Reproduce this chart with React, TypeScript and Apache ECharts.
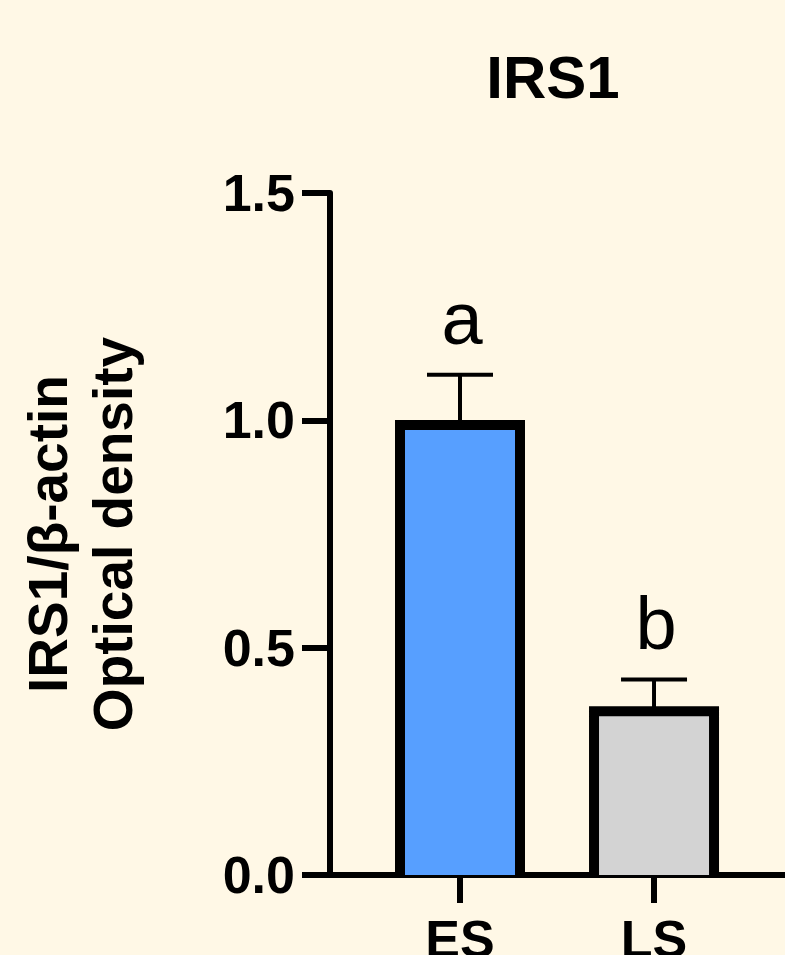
import React, { useEffect, useRef } from "react";
import * as echarts from "echarts";

const categories = ["ES", "LS"];
const categoryPositions = [1, 2];
const meanValues = [0.99, 0.36];
const errorTops = [1.1, 0.43];
const significanceLetters = ["a", "b"];
const barColors = ["#579FFF", "#D3D3D3"];
const yTicks = [0, 0.5, 1.0, 1.5];

const FONT = "'Liberation Sans', Arial, Helvetica, sans-serif";
const BAR_WIDTH = 120;

export default function App() {
  const ref = useRef<HTMLDivElement | null>(null);

  useEffect(() => {
    if (!ref.current) return;
    const chart = echarts.init(ref.current, null, { renderer: "svg" });

    const barData = meanValues.map((v, i) => ({
      value: [categoryPositions[i], v],
      itemStyle: { color: barColors[i] },
    }));
    const errData = meanValues.map((v, i) => [categoryPositions[i], v, errorTops[i], i]);

    chart.setOption({
      animation: false,
      backgroundColor: "#FFF8E6",
      title: {
        text: "IRS1",
        left: 553,
        top: 47,
        padding: 0,
        textAlign: "center",
        textStyle: { fontFamily: FONT, fontWeight: "bold", fontSize: 60, color: "#000" },
      },
      grid: {
        left: 330,
        right: 0,
        top: 193,
        bottom: 80,
        containLabel: false,
        outerBoundsMode: "none",
      },
      xAxis: {
        type: "value",
        min: 0.33,
        max: 2.675,
        splitLine: { show: false },
        axisLine: { show: true, lineStyle: { color: "#000", width: 6 } },
        axisTick: { show: true, customValues: categoryPositions, length: 28, lineStyle: { color: "#000", width: 6 } },
        axisLabel: {
          customValues: categoryPositions,
          formatter: (v: number) => categories[Math.round(v) - 1] ?? "",
          margin: 38,
          fontFamily: FONT,
          fontWeight: "bold",
          fontSize: 52,
          color: "#000",
        },
      },
      yAxis: {
        type: "value",
        min: 0,
        max: 1.5,
        interval: 0.5,
        splitLine: { show: false },
        name: "IRS1/β-actin\nOptical density",
        nameLocation: "middle",
        nameRotate: 90,
        nameGap: 185,
        nameTextStyle: { fontFamily: FONT, fontWeight: "bold", fontSize: 55, lineHeight: 65, color: "#000", align: "center" },
        axisLine: { show: true, lineStyle: { color: "#000", width: 6 } },
        axisTick: { show: true, length: 28, lineStyle: { color: "#000", width: 6 } },
        axisLabel: {
          formatter: (v: number) => (yTicks.includes(v) ? v.toFixed(1) : ""),
          margin: 35,
          fontFamily: FONT,
          fontWeight: "bold",
          fontSize: 52,
          color: "#000",
        },
      },
      series: [
        {
          type: "bar",
          data: barData,
          barWidth: BAR_WIDTH,
          itemStyle: { borderWidth: 0 },
          z: 2,
        },
        {
          type: "custom",
          data: errData,
          z: 3,
          renderItem: (params: any, api: any) => {
            const x = api.value(0);
            const base = api.coord([x, api.value(1)]);
            const top = api.coord([x, api.value(2)]);
            const zero = api.coord([x, 0]);
            const idx = api.value(3);
            const half = 33;
            const hw = BAR_WIDTH / 2;
            return {
              type: "group",
              children: [
                {
                  type: "polyline",
                  shape: {
                    points: [
                      [base[0] - hw, zero[1]],
                      [base[0] - hw, base[1]],
                      [base[0] + hw, base[1]],
                      [base[0] + hw, zero[1]],
                    ],
                  },
                  style: { stroke: "#000", lineWidth: 10, fill: null, lineJoin: "miter" },
                },
                {
                  type: "line",
                  shape: { x1: base[0], y1: base[1], x2: top[0], y2: top[1] },
                  style: { stroke: "#000", lineWidth: 4 },
                },
                {
                  type: "line",
                  shape: { x1: top[0] - half, y1: top[1], x2: top[0] + half, y2: top[1] },
                  style: { stroke: "#000", lineWidth: 4 },
                },
                {
                  type: "text",
                  x: top[0] + 2,
                  y: top[1] - 56,
                  style: {
                    text: significanceLetters[idx],
                    fontFamily: FONT,
                    fontSize: 74,
                    fill: "#000",
                    align: "center",
                    verticalAlign: "middle",
                  },
                },
              ],
            };
          },
        },
      ],
    });

    return () => chart.dispose();
  }, []);

  return (
    <div
      ref={ref}
      style={{ position: "fixed", left: 0, top: 0, width: 785, height: 955 }}
    />
  );
}
